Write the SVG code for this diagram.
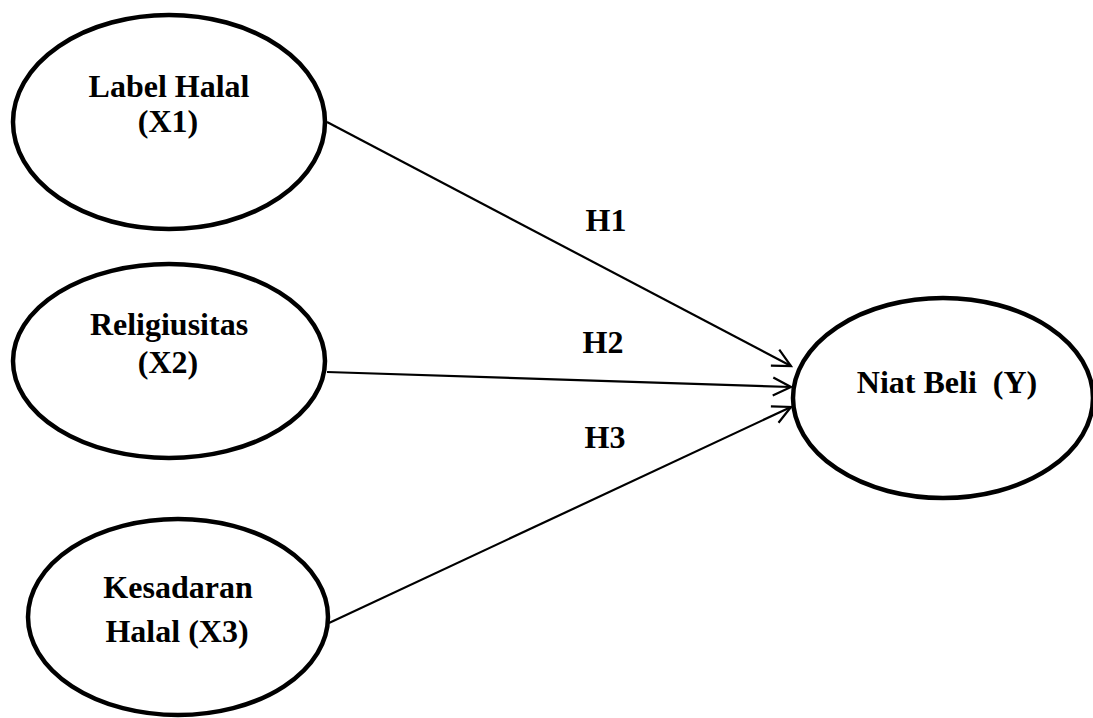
<svg xmlns="http://www.w3.org/2000/svg" width="1093" height="718" viewBox="0 0 1093 718">
<style>
.node ellipse{fill:#fff;stroke:#000;stroke-width:4.5}
text{font-family:"Liberation Serif","Times New Roman",serif;font-weight:bold;font-size:32px;fill:#000;text-anchor:middle;white-space:pre}
.edge{stroke:#000;stroke-width:2.2;fill:none;marker-end:url(#arr)}
</style>
<defs>
<marker id="arr" markerUnits="userSpaceOnUse" markerWidth="24" markerHeight="24" viewBox="0 0 24 24" refX="21" refY="12" orient="auto">
<path d="M3,3 L21,12 L3,21" fill="none" stroke="#000" stroke-width="2.2"/>
</marker>
</defs>
<rect width="1093" height="718" fill="#fff"/>
<g id="connectors">
<line class="edge" x1="327" y1="122" x2="791" y2="366"/>
<line class="edge" x1="327" y1="372" x2="791" y2="387"/>
<line class="edge" x1="329" y1="623" x2="791" y2="407"/>
<text x="606" y="231">H1</text>
<text x="603" y="353">H2</text>
<text x="605" y="448">H3</text>
</g>
<g id="x1" class="node">
<ellipse cx="169" cy="122" rx="156" ry="107"/>
<text x="169" y="97">Label Halal</text>
<text x="168" y="132">(X1)</text>
</g>
<g id="x2" class="node">
<ellipse cx="169" cy="361" rx="156" ry="97"/>
<text x="169" y="335">Religiusitas</text>
<text x="168" y="373">(X2)</text>
</g>
<g id="x3" class="node">
<ellipse cx="178" cy="617" rx="150" ry="98"/>
<text x="178" y="598">Kesadaran</text>
<text x="177" y="642">Halal (X3)</text>
</g>
<g id="y" class="node">
<ellipse cx="943" cy="398" rx="150" ry="100"/>
<text x="947" y="393">Niat Beli  (Y)</text>
</g>
</svg>
